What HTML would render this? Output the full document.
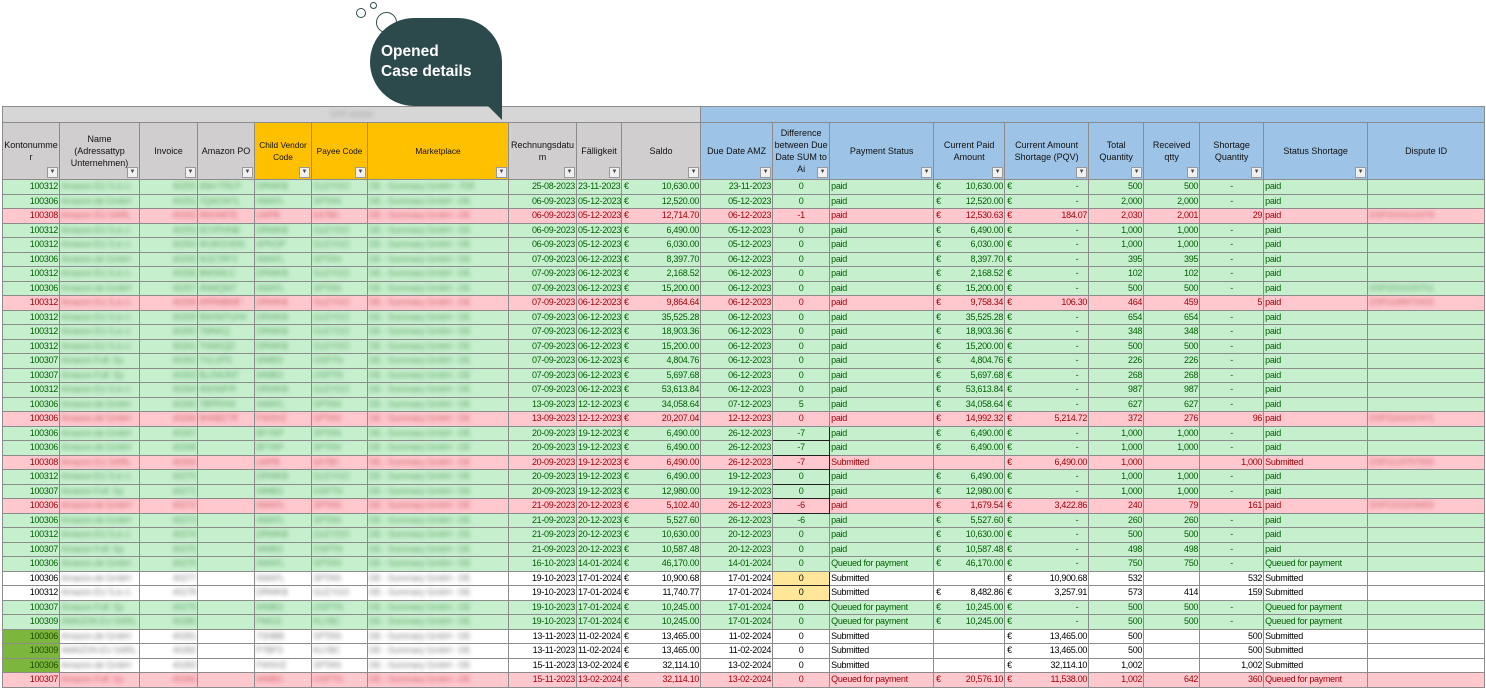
<!DOCTYPE html>
<html><head><meta charset="utf-8"><style>
body{margin:0;width:1486px;height:689px;background:#fff;position:relative;overflow:hidden;font-family:"Liberation Sans",sans-serif}
table{position:absolute;left:2px;top:106px;border-collapse:collapse;table-layout:fixed;width:1482px;font-size:9px;letter-spacing:-0.3px}
td,th{border:1px solid #8c8c8c;padding:0 1px;white-space:nowrap;overflow:hidden;height:13.5px;line-height:13px}
th{font-weight:normal;font-size:9px;line-height:12px;white-space:normal;word-break:break-all;position:relative;height:56px;background:#d0cece;color:#111;letter-spacing:0}
th.y{background:#ffc000;font-size:8.3px}
th.bl{background:#9dc3e6;word-break:normal}
th i{position:absolute;right:1px;bottom:1px;width:9px;height:9px;border:1px solid #999;background:#f0f0f0;font-style:normal;font-size:6px;line-height:9px;text-align:center;color:#444}
tr.top td{height:15px;background:#d6d6d6}
tr.top td.bl{background:#9dc3e6}
tr.g td{background:#c6efce;color:#006100}
tr.r td{background:#ffc7ce;color:#9c0006}
tr.w td{background:#fff;color:#000}
td.n{text-align:right}
td.c{text-align:center}
td.e b{float:left;font-weight:normal;padding-left:1px}
td.b span{filter:blur(2.2px);opacity:.5;display:inline-block}
td.x{border:1.5px solid #222}
td.yl{background:#ffe699!important}
td.lg{background:#7cb63c!important;color:#1e4d00!important}
.bub{position:absolute;left:370px;top:18px;width:132px;height:88px;background:#2c4a4b;border-radius:44px 44px 6px 44px;z-index:2}
.tail{position:absolute;left:472px;top:90px;width:0;height:0;border-left:30px solid transparent;border-top:30px solid #2c4a4b;z-index:2}
.bt{position:absolute;left:381px;top:42px;color:#fff;font-weight:bold;font-size:15.5px;line-height:20px;z-index:3}
.ci{position:absolute;border:1.5px solid #2c4a4b;border-radius:50%;background:transparent}
</style></head><body>
<div class="bub"></div><div class="tail"></div>
<div class="bt">Opened<br>Case details</div>
<div class="ci" style="left:356px;top:8px;width:8px;height:8px"></div>
<div class="ci" style="left:370px;top:2px;width:5px;height:5px"></div>
<div class="ci" style="left:376px;top:12px;width:19px;height:19px"></div>
<table>
<colgroup><col style="width:57px"><col style="width:80px"><col style="width:58px"><col style="width:57px"><col style="width:57px"><col style="width:56px"><col style="width:141px"><col style="width:68px"><col style="width:45px"><col style="width:79px"><col style="width:72px"><col style="width:57px"><col style="width:104px"><col style="width:71px"><col style="width:84px"><col style="width:55px"><col style="width:56px"><col style="width:64px"><col style="width:104px"><col style="width:117px"></colgroup>
<tr class="top"><td colspan="10" style="text-align:center;color:#aaa"><span style="filter:blur(2px)">SAP details</span></td><td colspan="10" class="bl"></td></tr>
<tr><th>Kontonummer<i>▼</i></th><th style="word-break:normal">Name (Adressattyp Unternehmen)<i>▼</i></th><th>Invoice<i>▼</i></th><th style="word-break:normal">Amazon PO<i>▼</i></th><th class="y" style="word-break:normal">Child Vendor Code<i>▼</i></th><th class="y" style="word-break:normal">Payee Code<i>▼</i></th><th class="y">Marketplace<i>▼</i></th><th>Rechnungsdatum<i>▼</i></th><th>Fälligkeit<i>▼</i></th><th>Saldo<i>▼</i></th><th class="bl">Due Date AMZ<i>▼</i></th><th class="bl">Difference between Due Date SUM to Ai<i>▼</i></th><th class="bl">Payment Status<i>▼</i></th><th class="bl">Current Paid Amount<i>▼</i></th><th class="bl">Current Amount Shortage (PQV)<i>▼</i></th><th class="bl">Total Quantity<i>▼</i></th><th class="bl">Received qtty<i>▼</i></th><th class="bl">Shortage Quantity<i>▼</i></th><th class="bl">Status Shortage<i>▼</i></th><th class="bl">Dispute ID</th></tr>
<tr class="g"><td class="n">100312</td><td class="b"><span>Amazon EU S.à r.l.</span></td><td class="b n"><span>40250</span></td><td class="b"><span>4NH-TRLP</span></td><td class="b"><span>DRWKB</span></td><td class="b"><span>GLEYGO</span></td><td class="b"><span>DE - Summary GmbH - 7DE</span></td><td class="n">25-08-2023</td><td class="n">23-11-2023</td><td class="n e"><b>€</b>10,630.00</td><td class="n">23-11-2023</td><td class="c">0</td><td>paid</td><td class="n e"><b>€</b>10,630.00</td><td class="n e"><b>€</b>-&nbsp;&nbsp;&nbsp;&nbsp;</td><td class="n">500</td><td class="n">500</td><td class="c">-</td><td>paid</td><td></td></tr>
<tr class="g"><td class="n">100306</td><td class="b"><span>Amazon.de GmbH</span></td><td class="b n"><span>40251</span></td><td class="b"><span>7QACW7L</span></td><td class="b"><span>AMAFL</span></td><td class="b"><span>SPTAN</span></td><td class="b"><span>DE - Summary GmbH - DE</span></td><td class="n">06-09-2023</td><td class="n">05-12-2023</td><td class="n e"><b>€</b>12,520.00</td><td class="n">05-12-2023</td><td class="c">0</td><td>paid</td><td class="n e"><b>€</b>12,520.00</td><td class="n e"><b>€</b>-&nbsp;&nbsp;&nbsp;&nbsp;</td><td class="n">2,000</td><td class="n">2,000</td><td class="c">-</td><td>paid</td><td></td></tr>
<tr class="r"><td class="n">100308</td><td class="b"><span>Amazon EU SARL</span></td><td class="b n"><span>40252</span></td><td class="b"><span>9NOA87E</span></td><td class="b"><span>LWPB</span></td><td class="b"><span>6A7B0</span></td><td class="b"><span>DE - Summary GmbH - DE</span></td><td class="n">06-09-2023</td><td class="n">05-12-2023</td><td class="n e"><b>€</b>12,714.70</td><td class="n">06-12-2023</td><td class="c">-1</td><td>paid</td><td class="n e"><b>€</b>12,530.63</td><td class="n e"><b>€</b>184.07</td><td class="n">2,030</td><td class="n">2,001</td><td class="n">29</td><td>paid</td><td class="b"><span>DSP2024102478</span></td></tr>
<tr class="g"><td class="n">100312</td><td class="b"><span>Amazon EU S.à r.l.</span></td><td class="b n"><span>40253</span></td><td class="b"><span>5CVPHNB</span></td><td class="b"><span>DRWKB</span></td><td class="b"><span>GLEYGO</span></td><td class="b"><span>DE - Summary GmbH - DE</span></td><td class="n">06-09-2023</td><td class="n">05-12-2023</td><td class="n e"><b>€</b>6,490.00</td><td class="n">05-12-2023</td><td class="c">0</td><td>paid</td><td class="n e"><b>€</b>6,490.00</td><td class="n e"><b>€</b>-&nbsp;&nbsp;&nbsp;&nbsp;</td><td class="n">1,000</td><td class="n">1,000</td><td class="c">-</td><td>paid</td><td></td></tr>
<tr class="g"><td class="n">100312</td><td class="b"><span>Amazon EU S.à r.l.</span></td><td class="b n"><span>40254</span></td><td class="b"><span>9HJKCHDN</span></td><td class="b"><span>APKOP</span></td><td class="b"><span>GLEYGO</span></td><td class="b"><span>DE - Summary GmbH - DE</span></td><td class="n">06-09-2023</td><td class="n">05-12-2023</td><td class="n e"><b>€</b>6,030.00</td><td class="n">05-12-2023</td><td class="c">0</td><td>paid</td><td class="n e"><b>€</b>6,030.00</td><td class="n e"><b>€</b>-&nbsp;&nbsp;&nbsp;&nbsp;</td><td class="n">1,000</td><td class="n">1,000</td><td class="c">-</td><td>paid</td><td></td></tr>
<tr class="g"><td class="n">100306</td><td class="b"><span>Amazon.de GmbH</span></td><td class="b n"><span>40255</span></td><td class="b"><span>6CE7RFX</span></td><td class="b"><span>AMAFL</span></td><td class="b"><span>SPTAN</span></td><td class="b"><span>DE - Summary GmbH - DE</span></td><td class="n">07-09-2023</td><td class="n">06-12-2023</td><td class="n e"><b>€</b>8,397.70</td><td class="n">06-12-2023</td><td class="c">0</td><td>paid</td><td class="n e"><b>€</b>8,397.70</td><td class="n e"><b>€</b>-&nbsp;&nbsp;&nbsp;&nbsp;</td><td class="n">395</td><td class="n">395</td><td class="c">-</td><td>paid</td><td></td></tr>
<tr class="g"><td class="n">100312</td><td class="b"><span>Amazon EU S.à r.l.</span></td><td class="b n"><span>40256</span></td><td class="b"><span>8NHWLC</span></td><td class="b"><span>DRWKB</span></td><td class="b"><span>GLEYGO</span></td><td class="b"><span>DE - Summary GmbH - DE</span></td><td class="n">07-09-2023</td><td class="n">06-12-2023</td><td class="n e"><b>€</b>2,168.52</td><td class="n">06-12-2023</td><td class="c">0</td><td>paid</td><td class="n e"><b>€</b>2,168.52</td><td class="n e"><b>€</b>-&nbsp;&nbsp;&nbsp;&nbsp;</td><td class="n">102</td><td class="n">102</td><td class="c">-</td><td>paid</td><td></td></tr>
<tr class="g"><td class="n">100306</td><td class="b"><span>Amazon.de GmbH</span></td><td class="b n"><span>40257</span></td><td class="b"><span>4NMQW7</span></td><td class="b"><span>AMAFL</span></td><td class="b"><span>SPTAN</span></td><td class="b"><span>DE - Summary GmbH - DE</span></td><td class="n">07-09-2023</td><td class="n">06-12-2023</td><td class="n e"><b>€</b>15,200.00</td><td class="n">06-12-2023</td><td class="c">0</td><td>paid</td><td class="n e"><b>€</b>15,200.00</td><td class="n e"><b>€</b>-&nbsp;&nbsp;&nbsp;&nbsp;</td><td class="n">500</td><td class="n">500</td><td class="c">-</td><td>paid</td><td class="b"><span>DSP2024100751</span></td></tr>
<tr class="r"><td class="n">100312</td><td class="b"><span>Amazon EU S.à r.l.</span></td><td class="b n"><span>40258</span></td><td class="b"><span>6RRMBMF</span></td><td class="b"><span>DRWKB</span></td><td class="b"><span>GLEYGO</span></td><td class="b"><span>DE - Summary GmbH - DE</span></td><td class="n">07-09-2023</td><td class="n">06-12-2023</td><td class="n e"><b>€</b>9,864.64</td><td class="n">06-12-2023</td><td class="c">0</td><td>paid</td><td class="n e"><b>€</b>9,758.34</td><td class="n e"><b>€</b>106.30</td><td class="n">464</td><td class="n">459</td><td class="n">5</td><td>paid</td><td class="b"><span>DSP2189072415</span></td></tr>
<tr class="g"><td class="n">100312</td><td class="b"><span>Amazon EU S.à r.l.</span></td><td class="b n"><span>40259</span></td><td class="b"><span>8NHW7UHV</span></td><td class="b"><span>DRWKB</span></td><td class="b"><span>GLEYGO</span></td><td class="b"><span>DE - Summary GmbH - DE</span></td><td class="n">07-09-2023</td><td class="n">06-12-2023</td><td class="n e"><b>€</b>35,525.28</td><td class="n">06-12-2023</td><td class="c">0</td><td>paid</td><td class="n e"><b>€</b>35,525.28</td><td class="n e"><b>€</b>-&nbsp;&nbsp;&nbsp;&nbsp;</td><td class="n">654</td><td class="n">654</td><td class="c">-</td><td>paid</td><td></td></tr>
<tr class="g"><td class="n">100312</td><td class="b"><span>Amazon EU S.à r.l.</span></td><td class="b n"><span>40260</span></td><td class="b"><span>7MNKQ</span></td><td class="b"><span>DRWKB</span></td><td class="b"><span>GLEYGO</span></td><td class="b"><span>DE - Summary GmbH - DE</span></td><td class="n">07-09-2023</td><td class="n">06-12-2023</td><td class="n e"><b>€</b>18,903.36</td><td class="n">06-12-2023</td><td class="c">0</td><td>paid</td><td class="n e"><b>€</b>18,903.36</td><td class="n e"><b>€</b>-&nbsp;&nbsp;&nbsp;&nbsp;</td><td class="n">348</td><td class="n">348</td><td class="c">-</td><td>paid</td><td></td></tr>
<tr class="g"><td class="n">100312</td><td class="b"><span>Amazon EU S.à r.l.</span></td><td class="b n"><span>40261</span></td><td class="b"><span>7HNKQD</span></td><td class="b"><span>DRWKB</span></td><td class="b"><span>GLEYGO</span></td><td class="b"><span>DE - Summary GmbH - DE</span></td><td class="n">07-09-2023</td><td class="n">06-12-2023</td><td class="n e"><b>€</b>15,200.00</td><td class="n">06-12-2023</td><td class="c">0</td><td>paid</td><td class="n e"><b>€</b>15,200.00</td><td class="n e"><b>€</b>-&nbsp;&nbsp;&nbsp;&nbsp;</td><td class="n">500</td><td class="n">500</td><td class="c">-</td><td>paid</td><td></td></tr>
<tr class="g"><td class="n">100307</td><td class="b"><span>Amazon Fulf. Sp</span></td><td class="b n"><span>40262</span></td><td class="b"><span>7VLUPS</span></td><td class="b"><span>WMBS</span></td><td class="b"><span>OSPTN</span></td><td class="b"><span>DE - Summary GmbH - DE</span></td><td class="n">07-09-2023</td><td class="n">06-12-2023</td><td class="n e"><b>€</b>4,804.76</td><td class="n">06-12-2023</td><td class="c">0</td><td>paid</td><td class="n e"><b>€</b>4,804.76</td><td class="n e"><b>€</b>-&nbsp;&nbsp;&nbsp;&nbsp;</td><td class="n">226</td><td class="n">226</td><td class="c">-</td><td>paid</td><td></td></tr>
<tr class="g"><td class="n">100307</td><td class="b"><span>Amazon Fulf. Sp</span></td><td class="b n"><span>40263</span></td><td class="b"><span>8LOWJNT</span></td><td class="b"><span>WMBS</span></td><td class="b"><span>OSPTN</span></td><td class="b"><span>DE - Summary GmbH - DE</span></td><td class="n">07-09-2023</td><td class="n">06-12-2023</td><td class="n e"><b>€</b>5,697.68</td><td class="n">06-12-2023</td><td class="c">0</td><td>paid</td><td class="n e"><b>€</b>5,697.68</td><td class="n e"><b>€</b>-&nbsp;&nbsp;&nbsp;&nbsp;</td><td class="n">268</td><td class="n">268</td><td class="c">-</td><td>paid</td><td></td></tr>
<tr class="g"><td class="n">100312</td><td class="b"><span>Amazon EU S.à r.l.</span></td><td class="b n"><span>40264</span></td><td class="b"><span>4NHWFR</span></td><td class="b"><span>DRWKB</span></td><td class="b"><span>GLEYGO</span></td><td class="b"><span>DE - Summary GmbH - DE</span></td><td class="n">07-09-2023</td><td class="n">06-12-2023</td><td class="n e"><b>€</b>53,613.84</td><td class="n">06-12-2023</td><td class="c">0</td><td>paid</td><td class="n e"><b>€</b>53,613.84</td><td class="n e"><b>€</b>-&nbsp;&nbsp;&nbsp;&nbsp;</td><td class="n">987</td><td class="n">987</td><td class="c">-</td><td>paid</td><td></td></tr>
<tr class="g"><td class="n">100306</td><td class="b"><span>Amazon.de GmbH</span></td><td class="b n"><span>40265</span></td><td class="b"><span>7BPRXW</span></td><td class="b"><span>AMAFL</span></td><td class="b"><span>SPTAN</span></td><td class="b"><span>DE - Summary GmbH - DE</span></td><td class="n">13-09-2023</td><td class="n">12-12-2023</td><td class="n e"><b>€</b>34,058.64</td><td class="n">07-12-2023</td><td class="c">5</td><td>paid</td><td class="n e"><b>€</b>34,058.64</td><td class="n e"><b>€</b>-&nbsp;&nbsp;&nbsp;&nbsp;</td><td class="n">627</td><td class="n">627</td><td class="c">-</td><td>paid</td><td></td></tr>
<tr class="r"><td class="n">100306</td><td class="b"><span>Amazon.de GmbH</span></td><td class="b n"><span>40266</span></td><td class="b"><span>9HNBZ7R</span></td><td class="b"><span>FWXHZ</span></td><td class="b"><span>SPTAN</span></td><td class="b"><span>DE - Summary GmbH - DE</span></td><td class="n">13-09-2023</td><td class="n">12-12-2023</td><td class="n e"><b>€</b>20,207.04</td><td class="n">12-12-2023</td><td class="c">0</td><td>paid</td><td class="n e"><b>€</b>14,992.32</td><td class="n e"><b>€</b>5,214.72</td><td class="n">372</td><td class="n">276</td><td class="n">96</td><td>paid</td><td class="b"><span>DSP2241037471</span></td></tr>
<tr class="g"><td class="n">100306</td><td class="b"><span>Amazon.de GmbH</span></td><td class="b n"><span>40267</span></td><td></td><td class="b"><span>BFYAP</span></td><td class="b"><span>SPTAN</span></td><td class="b"><span>DE - Summary GmbH - DE</span></td><td class="n">20-09-2023</td><td class="n">19-12-2023</td><td class="n e"><b>€</b>6,490.00</td><td class="n">26-12-2023</td><td class="c x">-7</td><td>paid</td><td class="n e"><b>€</b>6,490.00</td><td class="n e"><b>€</b>-&nbsp;&nbsp;&nbsp;&nbsp;</td><td class="n">1,000</td><td class="n">1,000</td><td class="c">-</td><td>paid</td><td></td></tr>
<tr class="g"><td class="n">100306</td><td class="b"><span>Amazon.de GmbH</span></td><td class="b n"><span>40268</span></td><td></td><td class="b"><span>BFYAP</span></td><td class="b"><span>SPTAN</span></td><td class="b"><span>DE - Summary GmbH - DE</span></td><td class="n">20-09-2023</td><td class="n">19-12-2023</td><td class="n e"><b>€</b>6,490.00</td><td class="n">26-12-2023</td><td class="c x">-7</td><td>paid</td><td class="n e"><b>€</b>6,490.00</td><td class="n e"><b>€</b>-&nbsp;&nbsp;&nbsp;&nbsp;</td><td class="n">1,000</td><td class="n">1,000</td><td class="c">-</td><td>paid</td><td></td></tr>
<tr class="r"><td class="n">100308</td><td class="b"><span>Amazon EU SARL</span></td><td class="b n"><span>40269</span></td><td></td><td class="b"><span>LWPB</span></td><td class="b"><span>6A7B0</span></td><td class="b"><span>DE - Summary GmbH - DE</span></td><td class="n">20-09-2023</td><td class="n">19-12-2023</td><td class="n e"><b>€</b>6,490.00</td><td class="n">26-12-2023</td><td class="c x">-7</td><td>Submitted</td><td></td><td class="n e"><b>€</b>6,490.00</td><td class="n">1,000</td><td></td><td class="n">1,000</td><td>Submitted</td><td class="b"><span>DSP2123757955</span></td></tr>
<tr class="g"><td class="n">100312</td><td class="b"><span>Amazon EU S.à r.l.</span></td><td class="b n"><span>40270</span></td><td></td><td class="b"><span>DRWKB</span></td><td class="b"><span>GLEYGO</span></td><td class="b"><span>DE - Summary GmbH - DE</span></td><td class="n">20-09-2023</td><td class="n">19-12-2023</td><td class="n e"><b>€</b>6,490.00</td><td class="n">19-12-2023</td><td class="c x">0</td><td>paid</td><td class="n e"><b>€</b>6,490.00</td><td class="n e"><b>€</b>-&nbsp;&nbsp;&nbsp;&nbsp;</td><td class="n">1,000</td><td class="n">1,000</td><td class="c">-</td><td>paid</td><td></td></tr>
<tr class="g"><td class="n">100307</td><td class="b"><span>Amazon Fulf. Sp</span></td><td class="b n"><span>40271</span></td><td></td><td class="b"><span>WMBS</span></td><td class="b"><span>OSPTN</span></td><td class="b"><span>DE - Summary GmbH - DE</span></td><td class="n">20-09-2023</td><td class="n">19-12-2023</td><td class="n e"><b>€</b>12,980.00</td><td class="n">19-12-2023</td><td class="c x">0</td><td>paid</td><td class="n e"><b>€</b>12,980.00</td><td class="n e"><b>€</b>-&nbsp;&nbsp;&nbsp;&nbsp;</td><td class="n">1,000</td><td class="n">1,000</td><td class="c">-</td><td>paid</td><td></td></tr>
<tr class="r"><td class="n">100306</td><td class="b"><span>Amazon.de GmbH</span></td><td class="b n"><span>40272</span></td><td></td><td class="b"><span>AMAFL</span></td><td class="b"><span>SPTAN</span></td><td class="b"><span>DE - Summary GmbH - DE</span></td><td class="n">21-09-2023</td><td class="n">20-12-2023</td><td class="n e"><b>€</b>5,102.40</td><td class="n">26-12-2023</td><td class="c x">-6</td><td>paid</td><td class="n e"><b>€</b>1,679.54</td><td class="n e"><b>€</b>3,422.86</td><td class="n">240</td><td class="n">79</td><td class="n">161</td><td>paid</td><td class="b"><span>DSP2153209455</span></td></tr>
<tr class="g"><td class="n">100306</td><td class="b"><span>Amazon.de GmbH</span></td><td class="b n"><span>40273</span></td><td></td><td class="b"><span>AMAFL</span></td><td class="b"><span>SPTAN</span></td><td class="b"><span>DE - Summary GmbH - DE</span></td><td class="n">21-09-2023</td><td class="n">20-12-2023</td><td class="n e"><b>€</b>5,527.60</td><td class="n">26-12-2023</td><td class="c">-6</td><td>paid</td><td class="n e"><b>€</b>5,527.60</td><td class="n e"><b>€</b>-&nbsp;&nbsp;&nbsp;&nbsp;</td><td class="n">260</td><td class="n">260</td><td class="c">-</td><td>paid</td><td></td></tr>
<tr class="g"><td class="n">100312</td><td class="b"><span>Amazon EU S.à r.l.</span></td><td class="b n"><span>40274</span></td><td></td><td class="b"><span>DRWKB</span></td><td class="b"><span>GLEYGO</span></td><td class="b"><span>DE - Summary GmbH - DE</span></td><td class="n">21-09-2023</td><td class="n">20-12-2023</td><td class="n e"><b>€</b>10,630.00</td><td class="n">20-12-2023</td><td class="c">0</td><td>paid</td><td class="n e"><b>€</b>10,630.00</td><td class="n e"><b>€</b>-&nbsp;&nbsp;&nbsp;&nbsp;</td><td class="n">500</td><td class="n">500</td><td class="c">-</td><td>paid</td><td></td></tr>
<tr class="g"><td class="n">100307</td><td class="b"><span>Amazon Fulf. Sp</span></td><td class="b n"><span>40275</span></td><td></td><td class="b"><span>WMBS</span></td><td class="b"><span>OSPTN</span></td><td class="b"><span>DE - Summary GmbH - DE</span></td><td class="n">21-09-2023</td><td class="n">20-12-2023</td><td class="n e"><b>€</b>10,587.48</td><td class="n">20-12-2023</td><td class="c">0</td><td>paid</td><td class="n e"><b>€</b>10,587.48</td><td class="n e"><b>€</b>-&nbsp;&nbsp;&nbsp;&nbsp;</td><td class="n">498</td><td class="n">498</td><td class="c">-</td><td>paid</td><td></td></tr>
<tr class="g"><td class="n">100306</td><td class="b"><span>Amazon.de GmbH</span></td><td class="b n"><span>40276</span></td><td></td><td class="b"><span>AMAFL</span></td><td class="b"><span>SPTAN</span></td><td class="b"><span>DE - Summary GmbH - DE</span></td><td class="n">16-10-2023</td><td class="n">14-01-2024</td><td class="n e"><b>€</b>46,170.00</td><td class="n">14-01-2024</td><td class="c">0</td><td>Queued for payment</td><td class="n e"><b>€</b>46,170.00</td><td class="n e"><b>€</b>-&nbsp;&nbsp;&nbsp;&nbsp;</td><td class="n">750</td><td class="n">750</td><td class="c">-</td><td>Queued for payment</td><td></td></tr>
<tr class="w"><td class="n">100306</td><td class="b"><span>Amazon.de GmbH</span></td><td class="b n"><span>40277</span></td><td></td><td class="b"><span>AMAFL</span></td><td class="b"><span>SPTAN</span></td><td class="b"><span>DE - Summary GmbH - DE</span></td><td class="n">19-10-2023</td><td class="n">17-01-2024</td><td class="n e"><b>€</b>10,900.68</td><td class="n">17-01-2024</td><td class="c yl x">0</td><td>Submitted</td><td></td><td class="n e"><b>€</b>10,900.68</td><td class="n">532</td><td></td><td class="n">532</td><td>Submitted</td><td></td></tr>
<tr class="w"><td class="n">100312</td><td class="b"><span>Amazon EU S.à r.l.</span></td><td class="b n"><span>40278</span></td><td></td><td class="b"><span>DRWKB</span></td><td class="b"><span>GLEYGO</span></td><td class="b"><span>DE - Summary GmbH - DE</span></td><td class="n">19-10-2023</td><td class="n">17-01-2024</td><td class="n e"><b>€</b>11,740.77</td><td class="n">17-01-2024</td><td class="c yl x">0</td><td>Submitted</td><td class="n e"><b>€</b>8,482.86</td><td class="n e"><b>€</b>3,257.91</td><td class="n">573</td><td class="n">414</td><td class="n">159</td><td>Submitted</td><td></td></tr>
<tr class="g"><td class="n">100307</td><td class="b"><span>Amazon Fulf. Sp</span></td><td class="b n"><span>40279</span></td><td></td><td class="b"><span>WMBS</span></td><td class="b"><span>OSPTN</span></td><td class="b"><span>DE - Summary GmbH - DE</span></td><td class="n">19-10-2023</td><td class="n">17-01-2024</td><td class="n e"><b>€</b>10,245.00</td><td class="n">17-01-2024</td><td class="c">0</td><td>Queued for payment</td><td class="n e"><b>€</b>10,245.00</td><td class="n e"><b>€</b>-&nbsp;&nbsp;&nbsp;&nbsp;</td><td class="n">500</td><td class="n">500</td><td class="c">-</td><td>Queued for payment</td><td></td></tr>
<tr class="g"><td class="n">100309</td><td class="b"><span>AMAZON EU SARL</span></td><td class="b n"><span>40280</span></td><td></td><td class="b"><span>PMGS</span></td><td class="b"><span>KLYBC</span></td><td class="b"><span>DE - Summary GmbH - DE</span></td><td class="n">19-10-2023</td><td class="n">17-01-2024</td><td class="n e"><b>€</b>10,245.00</td><td class="n">17-01-2024</td><td class="c">0</td><td>Queued for payment</td><td class="n e"><b>€</b>10,245.00</td><td class="n e"><b>€</b>-&nbsp;&nbsp;&nbsp;&nbsp;</td><td class="n">500</td><td class="n">500</td><td class="c">-</td><td>Queued for payment</td><td></td></tr>
<tr class="w"><td class="n lg">100306</td><td class="b"><span>Amazon.de GmbH</span></td><td class="b n"><span>40281</span></td><td></td><td class="b"><span>7SNBB</span></td><td class="b"><span>SPTAN</span></td><td class="b"><span>DE - Summary GmbH - DE</span></td><td class="n">13-11-2023</td><td class="n">11-02-2024</td><td class="n e"><b>€</b>13,465.00</td><td class="n">11-02-2024</td><td class="c">0</td><td>Submitted</td><td></td><td class="n e"><b>€</b>13,465.00</td><td class="n">500</td><td></td><td class="n">500</td><td>Submitted</td><td></td></tr>
<tr class="w"><td class="n lg">100309</td><td class="b"><span>AMAZON EU SARL</span></td><td class="b n"><span>40282</span></td><td></td><td class="b"><span>P7BFS</span></td><td class="b"><span>KLYBC</span></td><td class="b"><span>DE - Summary GmbH - DE</span></td><td class="n">13-11-2023</td><td class="n">11-02-2024</td><td class="n e"><b>€</b>13,465.00</td><td class="n">11-02-2024</td><td class="c">0</td><td>Submitted</td><td></td><td class="n e"><b>€</b>13,465.00</td><td class="n">500</td><td></td><td class="n">500</td><td>Submitted</td><td></td></tr>
<tr class="w"><td class="n lg">100306</td><td class="b"><span>Amazon.de GmbH</span></td><td class="b n"><span>40283</span></td><td></td><td class="b"><span>FWXHZ</span></td><td class="b"><span>SPTAN</span></td><td class="b"><span>DE - Summary GmbH - DE</span></td><td class="n">15-11-2023</td><td class="n">13-02-2024</td><td class="n e"><b>€</b>32,114.10</td><td class="n">13-02-2024</td><td class="c">0</td><td>Submitted</td><td></td><td class="n e"><b>€</b>32,114.10</td><td class="n">1,002</td><td></td><td class="n">1,002</td><td>Submitted</td><td></td></tr>
<tr class="r"><td class="n">100307</td><td class="b"><span>Amazon Fulf. Sp</span></td><td class="b n"><span>40284</span></td><td></td><td class="b"><span>WMBS</span></td><td class="b"><span>OSPTN</span></td><td class="b"><span>DE - Summary GmbH - DE</span></td><td class="n">15-11-2023</td><td class="n">13-02-2024</td><td class="n e"><b>€</b>32,114.10</td><td class="n">13-02-2024</td><td class="c">0</td><td>Queued for payment</td><td class="n e"><b>€</b>20,576.10</td><td class="n e"><b>€</b>11,538.00</td><td class="n">1,002</td><td class="n">642</td><td class="n">360</td><td>Queued for payment</td><td></td></tr>
</table>
</body></html>
